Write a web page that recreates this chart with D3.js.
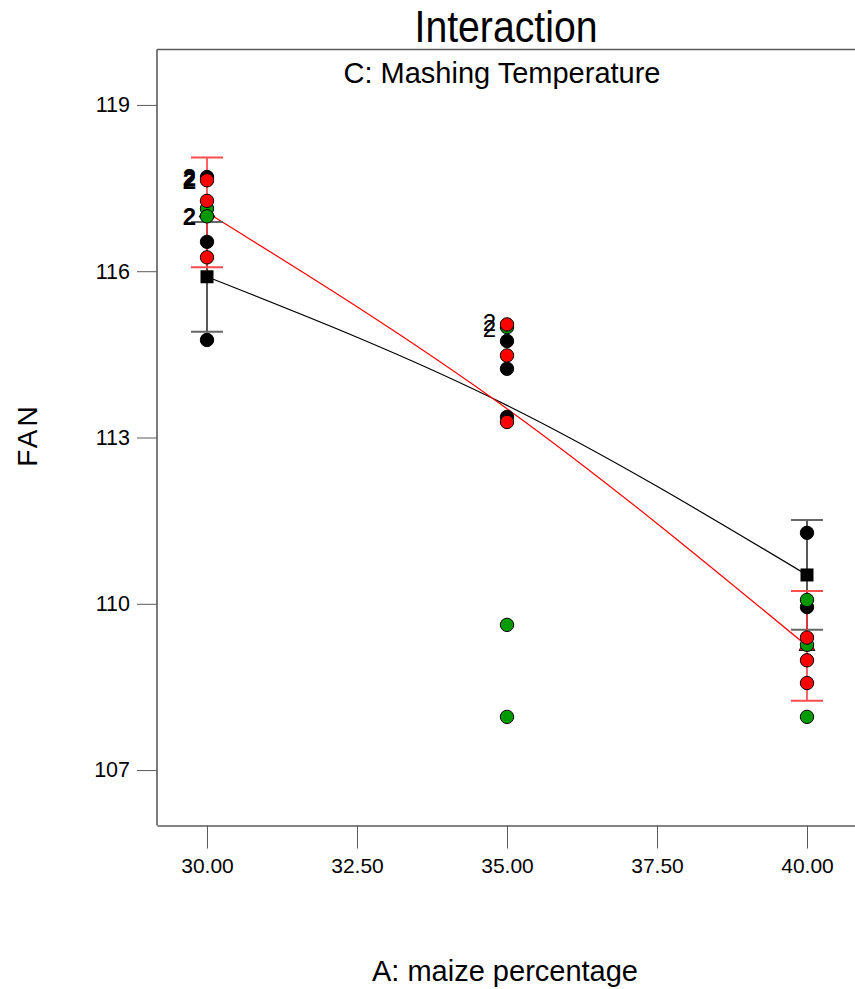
<!DOCTYPE html>
<html>
<head>
<meta charset="utf-8">
<script src="https://cdn.jsdelivr.net/npm/d3@7"></script>
<style>
  html, body { margin: 0; padding: 0; background: #fff; }
  svg { display: block; }
  text { font-family: "Liberation Sans", Arial, sans-serif; }
</style>
</head>
<body>
<svg id="chart" width="855" height="989"></svg>
<script>
// ---- data ----
const xLevels = [30, 35, 40];
const xTicks = [30, 32.5, 35, 37.5, 40];
const yTicks = [107, 110, 113, 116, 119];

const blackPoints = [[30,117.70],[30,116.53],[30,114.76],[35,114.74],[35,114.24],[35,113.37],[40,111.28],[40,109.94]];
const greenPoints = [[30,117.13],[30,116.99],[35,114.99],[35,109.62],[35,107.96],[40,110.07],[40,109.26],[40,107.96]];
const redPoints   = [[30,117.64],[30,117.27],[30,116.25],[35,115.04],[35,114.48],[35,113.28],[40,109.39],[40,108.98],[40,108.57]];

const blackMeans = [115.90, 113.58, 110.52];
const redMeans   = [117.06, 113.52, 109.24];
const barLevels  = [30, 40];
const lsdHalf    = 0.99;

const countLabels = [[30,117.70,"2"],[30,117.64,"2"],[30,116.99,"2"],[35,115.08,"2"],[35,114.98,"2"]];

// ---- layout ----
const svg = d3.select("#chart");
const x = d3.scaleLinear().domain([29.1667, 40.8833]).range([157, 860]);
const y = d3.scaleLinear().domain([106, 120]).range([825.5, 49.5]);

const axisColor = "#5a5a5a";

// frame lines (left, top)
svg.append("line").attr("x1", 157).attr("x2", 157).attr("y1", y(120)).attr("y2", y(106))
  .attr("stroke", axisColor).attr("stroke-width", 1.6);
svg.append("line").attr("x1", 157).attr("x2", 860).attr("y1", y(120)).attr("y2", y(120))
  .attr("stroke", axisColor).attr("stroke-width", 1.6);

// axes
const xAxis = d3.axisBottom(x).tickValues(xTicks).tickFormat(d3.format(".2f"))
  .tickSize(23).tickSizeOuter(0).tickPadding(10);
const gx = svg.append("g").attr("transform", `translate(0,${y(106)})`).call(xAxis);
gx.select(".domain").attr("stroke", axisColor).attr("stroke-width", 1.6);
gx.selectAll(".tick line").attr("stroke", axisColor);
gx.selectAll(".tick text").attr("font-size", 21).attr("fill", "#000")
  .style("font-family", '"Liberation Sans", Arial, sans-serif');

const yAxis = d3.axisLeft(y).tickValues(yTicks).tickFormat(d3.format("d")).tickSize(20).tickPadding(7);
const gy = svg.append("g").attr("transform", "translate(157,0)").call(yAxis);
gy.select(".domain").remove();
gy.selectAll(".tick line").attr("stroke", axisColor);
gy.selectAll(".tick text").attr("font-size", 21.5).attr("fill", "#000")
  .style("font-family", '"Liberation Sans", Arial, sans-serif');

// titles
svg.append("text").attr("x", 506).attr("y", 42).attr("text-anchor", "middle")
  .attr("font-size", 45).attr("textLength", 183).attr("lengthAdjust", "spacingAndGlyphs")
  .text("Interaction");
svg.append("text").attr("x", 502).attr("y", 83).attr("text-anchor", "middle")
  .attr("font-size", 29).text("C: Mashing Temperature");
svg.append("text").attr("x", 505).attr("y", 981).attr("text-anchor", "middle")
  .attr("font-size", 29).text("A: maize percentage");
svg.append("text").attr("transform", "translate(37,435) rotate(-90)").attr("text-anchor", "middle")
  .attr("font-size", 28).attr("letter-spacing", 3).text("FAN");

// prediction curves
const line = d3.line().x(d => x(d[0])).y(d => y(d[1])).curve(d3.curveNatural);
svg.append("path").datum(xLevels.map((v, i) => [v, blackMeans[i]]))
  .attr("d", line).attr("fill", "none").attr("stroke", "#000").attr("stroke-width", 1.2);
svg.append("path").datum(xLevels.map((v, i) => [v, redMeans[i]]))
  .attr("d", line).attr("fill", "none").attr("stroke", "#ff0000").attr("stroke-width", 1.2);

// LSD bars
function bars(means, color, capColor) {
  barLevels.forEach(lv => {
    const m = means[xLevels.indexOf(lv)];
    const cx = x(lv);
    svg.append("line").attr("x1", cx).attr("x2", cx).attr("y1", y(m + lsdHalf)).attr("y2", y(m - lsdHalf))
      .attr("stroke", color).attr("stroke-width", 1.5);
    [m + lsdHalf, m - lsdHalf].forEach(v => {
      svg.append("line").attr("x1", cx - 16).attr("x2", cx + 16).attr("y1", y(v)).attr("y2", y(v))
        .attr("stroke", capColor).attr("stroke-width", 2);
    });
  });
}
bars(blackMeans, "#222", "#666");
bars(redMeans, "#ff3030", "#ff4d4d");

// mean markers
barLevels.forEach(lv => {
  const i = xLevels.indexOf(lv);
  svg.append("path").attr("d", d3.symbol().type(d3.symbolTriangle).size(110)())
    .attr("transform", `translate(${x(lv)},${y(redMeans[i])})`)
    .attr("fill", "#ff0000").attr("stroke", "#000").attr("stroke-width", 0.8);
  svg.append("rect").attr("x", x(lv) - 6.5).attr("y", y(blackMeans[i]) - 6.5)
    .attr("width", 13).attr("height", 13).attr("fill", "#000");
});

// design points
function pts(data, fill) {
  svg.append("g").selectAll("circle").data(data).join("circle")
    .attr("cx", d => x(d[0])).attr("cy", d => y(d[1])).attr("r", 6.7)
    .attr("fill", fill).attr("stroke", "#000").attr("stroke-width", 1);
}
pts(blackPoints, "#000");
pts(greenPoints, "#009900");
pts(redPoints, "#ff0000");

// count labels
svg.append("g").selectAll("text").data(countLabels).join("text")
  .attr("x", d => x(d[0]) - 11).attr("y", d => y(d[1]) + 9)
  .attr("text-anchor", "end").attr("font-size", 24)
  .attr("font-weight", d => d[0] === 30 ? "bold" : "normal")
  .style("font-family", '"Liberation Sans", Arial, sans-serif')
  .text(d => d[2]);
</script>
</body>
</html>
